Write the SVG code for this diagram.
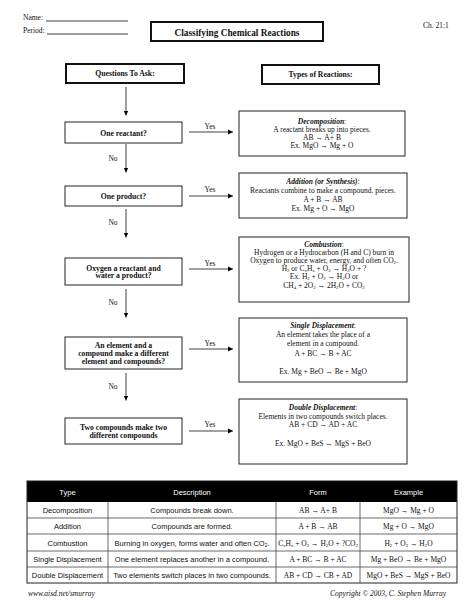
<svg xmlns="http://www.w3.org/2000/svg" width="474" height="614" viewBox="0 0 474 614">
<defs>
<marker id="ah" markerUnits="userSpaceOnUse" markerWidth="6" markerHeight="6" refX="5" refY="3" orient="auto">
<path d="M0,0.6 L5,3 L0,5.4 Z" fill="#000"/>
</marker>
<style>
text{font-family:"Liberation Serif","Times New Roman",serif;font-size:7.5px;fill:#111}
.c{text-anchor:middle}
.b{font-weight:bold}
.q{font-weight:bold;font-size:7.7px;text-anchor:middle}
.bi{font-weight:bold;font-style:italic}
.s{font-family:"Liberation Sans",Arial,sans-serif;font-size:7.5px;text-anchor:middle}
.hw{fill:#fff}
.box{fill:#fff;stroke:#222;stroke-width:1}
.thick{fill:#fff;stroke:#111;stroke-width:2}
.ln{stroke:#111;stroke-width:0.8;fill:none}
.arr{stroke:#111;stroke-width:0.8;fill:none;marker-end:url(#ah)}
.grid{stroke:#444;stroke-width:0.8;fill:none}
.sub{font-size:4.8px}
.ft{font-style:italic;font-size:7.5px}
</style>
</defs>

<g id="header">
<text x="23" y="19.5">Name:</text>
<line class="ln" x1="46" y1="21" x2="128" y2="21"/>
<text x="23" y="33">Period:</text>
<line class="ln" x1="47" y1="34" x2="128" y2="34"/>
<text x="423" y="28">Ch. 21:1</text>
</g>
<g id="title">
<rect class="thick" x="151" y="22" width="172" height="19"/>
<text class="c b" x="237" y="35.5" style="font-size:9.3px">Classifying Chemical Reactions</text>
</g>

<g id="questions-header">
<rect class="thick" x="66" y="64" width="118" height="19"/>
<text class="q" x="125" y="76">Questions To Ask:</text>
</g>
<g id="types-header">
<rect class="thick" x="262" y="65" width="117" height="19"/>
<text class="q" x="320.5" y="77">Types of Reactions:</text>
</g>

<g id="q1">
<rect class="box" x="65" y="122" width="117" height="21"/>
<text class="q" x="123.5" y="135.5">One reactant?</text>
</g>
<g id="q2">
<rect class="box" x="65" y="186" width="117" height="20"/>
<text class="q" x="123.5" y="198.5">One product?</text>
</g>
<g id="q3">
<rect class="box" x="65" y="258" width="117" height="27"/>
<text class="q" x="123.5" y="270.5">Oxygen a reactant and</text>
<text class="q" x="123.5" y="278">water a product?</text>
</g>
<g id="q4">
<rect class="box" x="65" y="337" width="117" height="32"/>
<text class="q" x="123.5" y="347.5">An element and a</text>
<text class="q" x="123.5" y="355.5">compound make a different</text>
<text class="q" x="123.5" y="363.5">element and compounds?</text>
</g>
<g id="q5">
<rect class="box" x="65" y="418" width="117" height="26"/>
<text class="q" x="123.5" y="429.5">Two compounds make two</text>
<text class="q" x="123.5" y="437.5">different compounds</text>
</g>

<g id="decomposition">
<rect class="box" x="239" y="111" width="166" height="45"/>
<text class="c" x="322" y="123.5"><tspan class="bi">Decomposition</tspan>:</text>
<text class="c" x="322" y="131.5">A reactant breaks up into pieces.</text>
<text class="c" x="322" y="139.5">AB → A+ B</text>
<text class="c" x="322" y="147.5">Ex. MgO → Mg + O</text>
</g>
<g id="addition">
<rect class="box" x="239" y="173" width="168" height="45"/>
<text class="c" x="323" y="183.5"><tspan class="bi">Addition (or Synthesis)</tspan>:</text>
<text class="c" x="323" y="192.7">Reactants combine to make a compound. pieces.</text>
<text class="c" x="323" y="202">A + B → AB</text>
<text class="c" x="323" y="211.4">Ex.  Mg + O → MgO</text>
</g>
<g id="combustion">
<rect class="box" x="239" y="237" width="170" height="65"/>
<text class="c" x="324" y="247"><tspan class="bi">Combustion</tspan>:</text>
<text class="c" x="324" y="255.1">Hydrogen or a Hydrocarbon (H and C) burn in</text>
<text class="c" x="324" y="263.2">Oxygen to produce water, energy, and often CO<tspan class="sub" dy="1">2</tspan><tspan dy="-1">.</tspan></text>
<text class="c" x="324" y="271.3">H<tspan class="sub" dy="1">2</tspan><tspan dy="-1"> or C</tspan><tspan class="sub" dy="1">x</tspan><tspan dy="-1">H</tspan><tspan class="sub" dy="1">x</tspan><tspan dy="-1"> + O</tspan><tspan class="sub" dy="1">2</tspan><tspan dy="-1"> → H</tspan><tspan class="sub" dy="1">2</tspan><tspan dy="-1">O + ?</tspan></text>
<text class="c" x="324" y="279.4">Ex.  H<tspan class="sub" dy="1">2</tspan><tspan dy="-1"> + O</tspan><tspan class="sub" dy="1">2</tspan><tspan dy="-1"> → H</tspan><tspan class="sub" dy="1">2</tspan><tspan dy="-1">O  or</tspan></text>
<text class="c" x="324" y="287.5">CH<tspan class="sub" dy="1">4</tspan><tspan dy="-1"> + 2O</tspan><tspan class="sub" dy="1">2</tspan><tspan dy="-1"> → 2H</tspan><tspan class="sub" dy="1">2</tspan><tspan dy="-1">O + CO</tspan><tspan class="sub" dy="1">2</tspan></text>
</g>
<g id="single-displacement">
<rect class="box" x="239" y="318" width="168" height="64"/>
<text class="c" x="323" y="327.7"><tspan class="bi">Single Displacement</tspan>:</text>
<text class="c" x="323" y="336.7">An element takes the place of a</text>
<text class="c" x="323" y="345.5">element in a compound.</text>
<text class="c" x="323" y="355.5">A + BC → B + AC</text>
<text class="c" x="323" y="373.5">Ex.  Mg + BeO → Be + MgO</text>
</g>
<g id="double-displacement">
<rect class="box" x="239" y="399" width="168" height="65"/>
<text class="c" x="323" y="409.7"><tspan class="bi">Double Displacement</tspan>:</text>
<text class="c" x="323" y="418.7">Elements in two compounds switch places.</text>
<text class="c" x="323" y="427">AB + CD → AD + AC</text>
<text class="c" x="323" y="445.7">Ex.  MgO + BeS → MgS + BeO</text>
</g>

<g id="connectors">
<line class="arr" x1="126" y1="87" x2="126" y2="115.5"/>
<line class="arr" x1="126" y1="144" x2="126" y2="172.5"/>
<line class="arr" x1="126" y1="209" x2="126" y2="237.5"/>
<line class="arr" x1="126" y1="289" x2="126" y2="317.5"/>
<line class="arr" x1="126" y1="373" x2="126" y2="400.5"/>
<line class="arr" x1="189" y1="132" x2="233" y2="132"/>
<line class="arr" x1="189" y1="196" x2="233" y2="196"/>
<line class="arr" x1="189" y1="269" x2="233" y2="269"/>
<line class="arr" x1="189" y1="349" x2="233" y2="349"/>
<line class="arr" x1="189" y1="431" x2="233" y2="431"/>
<text class="c" x="210" y="129">Yes</text>
<text class="c" x="210" y="192">Yes</text>
<text class="c" x="210" y="265.5">Yes</text>
<text class="c" x="210" y="345.5">Yes</text>
<text class="c" x="210" y="426.5">Yes</text>
<text class="c" x="113" y="160.5">No</text>
<text class="c" x="113" y="224.5">No</text>
<text class="c" x="113" y="304.5">No</text>
<text class="c" x="113" y="388.5">No</text>
</g>

<g id="summary-table">
<rect x="27" y="481" width="430" height="21" fill="#000"/>
<rect class="grid" x="27" y="481" width="430" height="102" style="stroke:#222;stroke-width:1"/>
<line class="grid" x1="27" y1="518" x2="457" y2="518"/>
<line class="grid" x1="27" y1="534" x2="457" y2="534"/>
<line class="grid" x1="27" y1="551" x2="457" y2="551"/>
<line class="grid" x1="27" y1="567" x2="457" y2="567"/>
<line class="grid" x1="108" y1="502" x2="108" y2="583"/>
<line class="grid" x1="276" y1="502" x2="276" y2="583"/>
<line class="grid" x1="360" y1="502" x2="360" y2="583"/>
<text class="s hw" x="67.5" y="494.7">Type</text>
<text class="s hw" x="192" y="494.7">Description</text>
<text class="s hw" x="318" y="494.7">Form</text>
<text class="s hw" x="408.5" y="494.7">Example</text>

<text class="s" x="67.5" y="512.7">Decomposition</text>
<text class="s" x="192" y="512.7">Compounds break down.</text>
<text class="c" x="318" y="512.7">AB → A+ B</text>
<text class="c" x="408.5" y="512.7">MgO → Mg + O</text>

<text class="s" x="67.5" y="528.7">Addition</text>
<text class="s" x="192" y="528.7">Compounds are formed.</text>
<text class="c" x="318" y="528.7">A + B → AB</text>
<text class="c" x="408.5" y="528.7">Mg + O → MgO</text>

<text class="s" x="67.5" y="545.7">Combustion</text>
<text class="s" x="192" y="545.7">Burning in oxygen, forms water and often CO<tspan class="sub" dy="1.2">2</tspan><tspan dy="-1.2">.</tspan></text>
<text class="c" x="318" y="545.7">C<tspan class="sub" dy="1.2">x</tspan><tspan dy="-1.2">H</tspan><tspan class="sub" dy="1.2">x</tspan><tspan dy="-1.2"> + O</tspan><tspan class="sub" dy="1.2">2</tspan><tspan dy="-1.2"> → H</tspan><tspan class="sub" dy="1.2">2</tspan><tspan dy="-1.2">O + ?CO</tspan><tspan class="sub" dy="1.2">2</tspan></text>
<text class="c" x="408.5" y="545.7">H<tspan class="sub" dy="1.2">2</tspan><tspan dy="-1.2"> + O</tspan><tspan class="sub" dy="1.2">2</tspan><tspan dy="-1.2"> → H</tspan><tspan class="sub" dy="1.2">2</tspan><tspan dy="-1.2">O</tspan></text>

<text class="s" x="67.5" y="561.7">Single Displacement</text>
<text class="s" x="192" y="561.7">One element replaces another in a compound.</text>
<text class="c" x="318" y="561.7">A + BC → B + AC</text>
<text class="c" x="408.5" y="561.7">Mg + BeO → Be + MgO</text>

<text class="s" x="67.5" y="577.7">Double Displacement</text>
<text class="s" x="192" y="577.7">Two elements switch places in two compounds.</text>
<text class="c" x="318" y="577.7">AB + CD → CB + AD</text>
<text class="c" x="408.5" y="577.7">MgO + BeS → MgS + BeO</text>
</g>

<g id="footer">
<text class="ft" x="28" y="596">www.aisd.net/smurray</text>
<text class="ft" x="446" y="596" text-anchor="end">Copyright © 2003, C. Stephen Murray</text>
</g>
</svg>
